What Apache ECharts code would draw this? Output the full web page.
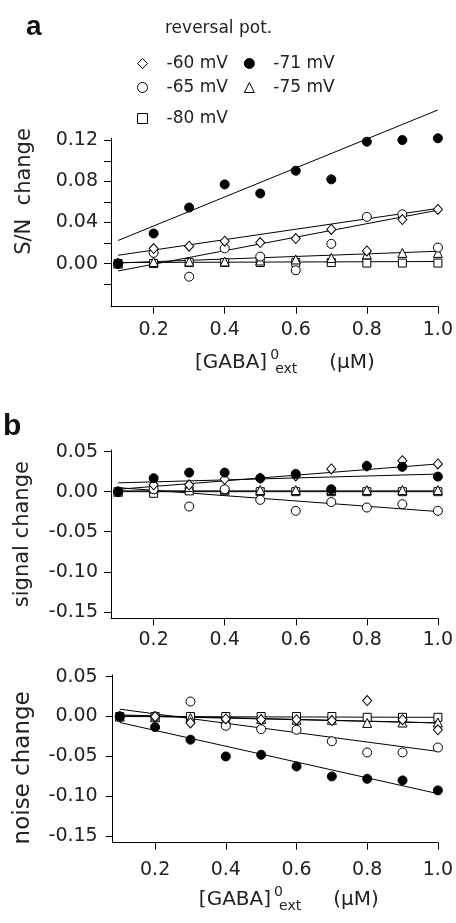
<!DOCTYPE html>
<html><head><meta charset="utf-8">
<script src="https://cdn.jsdelivr.net/npm/echarts@6/dist/echarts.min.js"></script>
<style>html,body{margin:0;padding:0;background:#fff}#c{width:456px;height:923px}</style>
</head><body><div id="c"></div>
<script>
// ---- data ----
const conc = [0.1, 0.2, 0.3, 0.4, 0.5, 0.6, 0.7, 0.8, 0.9, 1.0];
const names = ['-60 mV', '-65 mV', '-71 mV', '-75 mV', '-80 mV'];

// panel a: S/N change
const snM60 = [0, 0.0146, 0.0169, 0.0218, 0.0205, 0.0244, 0.0332, 0.0123, 0.0429, 0.0527];
const snM65 = [0, 0.0104, -0.0128, 0.0148, 0.0068, -0.0065, 0.0192, 0.0455, 0.048, 0.0156];
const snM71 = [0, 0.0293, 0.0546, 0.0771, 0.0683, 0.0904, 0.082, 0.1187, 0.1203, 0.122];
const snM75 = [0, 0.0016, 0.002, 0.002, 0.003, 0.004, 0.0055, 0.009, 0.0104, 0.0104];
const snM80 = [0, 0, 0.001, 0.001, 0.001, 0.001, 0.001, 0.0005, 0.0005, 0.0005];

// panel b: signal change
const sgM60 = [0, 0.0085, 0.0085, 0.0155, 0.0168, 0.0197, 0.0284, 0.032, 0.0387, 0.0346];
const sgM65 = [0, 0.003, -0.0185, 0.003, -0.0102, -0.0239, -0.013, -0.0198, -0.0156, -0.0239];
const sgM71 = [0, 0.0168, 0.0238, 0.0238, 0.0168, 0.0222, 0.003, 0.032, 0.031, 0.0188];
const sgM75 = [0, 0.004, 0.006, 0.003, 0.002, 0.002, 0.002, 0.002, 0.002, 0.002];
const sgM80 = [0, -0.002, 0.001, 0.001, 0, 0, 0, 0, 0, 0];

// panel c: noise change
const nzM60 = [0, 0, -0.008, -0.003, -0.004, -0.004, -0.005, 0.02, -0.004, -0.0166];
const nzM65 = [0, 0, 0.0188, -0.0116, -0.0158, -0.0166, -0.031, -0.045, -0.045, -0.0388];
const nzM71 = [0, -0.0133, -0.029, -0.05, -0.0479, -0.0625, -0.075, -0.078, -0.08, -0.0925];
const nzM75 = [0, -0.001, -0.002, -0.003, -0.003, -0.004, -0.004, -0.008, -0.0075, -0.0075];
const nzM80 = [0, 0, 0, 0, 0, 0, 0, -0.001, -0.001, -0.001];

// linear fits (value at first and last concentration)
const fitX = [0.1, 1.0];
const snFitM60 = [0.0081, 0.0537];
const snFitM65 = [-0.0072, 0.052];
const snFitM71 = [0.0225, 0.1496];
const snFitM75 = [0.0006, 0.012];
const snFitM80 = [0.001, 0.002];
const sgFitM60 = [0.003, 0.0346];
const sgFitM65 = [0.005, -0.0248];
const sgFitM71 = [0.011, 0.022];
const sgFitM75 = [0.001, 0.001];
const sgFitM80 = [0, 0];
const nzFitM60 = [0.002, -0.008];
const nzFitM65 = [0.0092, -0.0437];
const nzFitM71 = [-0.0075, -0.0966];
const nzFitM75 = [0.001, -0.008];
const nzFitM80 = [0, -0.001];

// ticks
const xTicks = [0.2, 0.4, 0.6, 0.8, 1.0];
const snTicks = [-0.02, 0, 0.02, 0.04, 0.06, 0.08, 0.10, 0.12];
const snLabels = [0, 0.04, 0.08, 0.12];
const chTicks = [-0.15, -0.10, -0.05, 0, 0.05];

// ---- chart ----
const FONT = 'DejaVu Sans';
const TXT = '#222';
const symbolOf = {
  '-60 mV': {symbol: 'diamond', size: [9, 10], fill: '#fff'},
  '-65 mV': {symbol: 'circle', size: 9, fill: '#fff'},
  '-71 mV': {symbol: 'circle', size: 9, fill: '#000'},
  '-75 mV': {symbol: 'triangle', size: 9, fill: '#fff'},
  '-80 mV': {symbol: 'rect', size: 8, fill: '#fff'}
};
const pair = arr => conc.map((x, i) => [x, arr[i]]);

const series = [];
function addPanel(gi, pts, fits) {
  fits.forEach((f, k) => {
    series.push({
      type: 'line', name: names[k] + ' fit', xAxisIndex: gi, yAxisIndex: gi,
      data: fitX.map((x, i) => [x, f[i]]), symbol: 'none', silent: true, clip: false,
      lineStyle: {color: '#000', width: 1}, z: 2
    });
  });
  const order = [4, 3, 1, 0, 2];
  order.forEach(k => {
    const s = symbolOf[names[k]];
    series.push({
      type: 'scatter', name: names[k], xAxisIndex: gi, yAxisIndex: gi,
      data: pair(pts[k]), symbol: s.symbol, symbolSize: s.size, clip: false,
      itemStyle: {color: s.fill, borderColor: '#000', borderWidth: 1, opacity: 1}, z: 3
    });
  });
}
addPanel(0, [snM60, snM65, snM71, snM75, snM80], [snFitM60, snFitM65, snFitM71, snFitM75, snFitM80]);
addPanel(1, [sgM60, sgM65, sgM71, sgM75, sgM80], [sgFitM60, sgFitM65, sgFitM71, sgFitM75, sgFitM80]);
addPanel(2, [nzM60, nzM65, nzM71, nzM75, nzM80], [nzFitM60, nzFitM65, nzFitM71, nzFitM75, nzFitM80]);

const axisLine = {show: true, onZero: false, lineStyle: {color: '#000', width: 1}};
const gabaName = '{m|[GABA]}{sup|0}{sub|ext}{u|(\u03bcM)}';
const gabaRich = {
  m: {fontFamily: FONT, fontSize: 20, color: TXT, lineHeight: 28, verticalAlign: 'middle'},
  sup: {fontFamily: FONT, fontSize: 14, color: TXT, lineHeight: 14, verticalAlign: 'top', width: 1, padding: [0, 0, 0, 7]},
  sub: {fontFamily: FONT, fontSize: 14, color: TXT, lineHeight: 14, verticalAlign: 'bottom'},
  u: {fontFamily: FONT, fontSize: 20, color: TXT, lineHeight: 28, verticalAlign: 'middle', padding: [0, 0, 0, 32]}
};
function xAx(gi, margin, withName, namePad, nameGap) {
  const o = {
    type: 'value', gridIndex: gi, min: 0.08, max: 1.0,
    axisLine: axisLine,
    axisTick: {show: true, length: 7, customValues: xTicks, lineStyle: {color: '#000'}},
    axisLabel: {customValues: xTicks, margin: margin, formatter: v => v.toFixed(1),
      fontFamily: FONT, fontSize: 19, color: TXT},
    splitLine: {show: false}
  };
  if (withName) {
    o.name = gabaName; o.nameLocation = 'middle'; o.nameGap = nameGap;
    o.nameTextStyle = {rich: gabaRich, padding: [0, 0, 0, namePad]};
  }
  return o;
}
function yAx(gi, min, max, ticks, labels, name, nameSize, nameGap, namePad, margin) {
  return {
    type: 'value', gridIndex: gi, min: min, max: max,
    axisLine: axisLine,
    axisTick: {show: true, length: 7, customValues: ticks, lineStyle: {color: '#000'}},
    axisLabel: {customValues: labels, margin: margin, formatter: v => (Math.abs(v) < 1e-9 ? 0 : v).toFixed(2),
      fontFamily: FONT, fontSize: 19, color: TXT},
    splitLine: {show: false},
    name: name, nameLocation: 'middle', nameRotate: 90, nameGap: nameGap,
    nameTextStyle: {fontFamily: FONT, fontSize: nameSize, color: TXT, padding: namePad}
  };
}

const legendBase = {
  itemWidth: 10, itemHeight: 10, padding: 0, itemGap: 16, selectedMode: false,
  itemStyle: {borderWidth: 1, borderColor: '#000'},
  textStyle: {fontFamily: FONT, fontSize: 17, color: TXT, padding: [0, 0, 0, 14]}
};

const option = {
  animation: false,
  backgroundColor: '#fff',
  title: [
    {text: 'a', left: 26, top: 13, padding: 0, textStyle: {fontFamily: 'Liberation Sans', fontWeight: 'bold', fontSize: 28, color: '#111'}},
    {text: 'b', left: 3, top: 412, padding: 0, textStyle: {fontFamily: 'Liberation Sans', fontWeight: 'bold', fontSize: 30, color: '#111'}},
    {text: 'reversal pot.', left: 165, top: 20, padding: 0, textStyle: {fontFamily: FONT, fontSize: 17, fontWeight: 'normal', color: TXT}}
  ],
  legend: [
    Object.assign({}, legendBase, {left: 137, top: 55, data: ['-60 mV', '-71 mV']}),
    Object.assign({}, legendBase, {left: 137, top: 79, data: ['-65 mV', '-75 mV']}),
    Object.assign({}, legendBase, {left: 137, top: 110, data: ['-80 mV']})
  ],
  grid: [
    {left: 111, right: 17.7, top: 138.3, bottom: 923 - 306.7},
    {left: 111, right: 17.7, top: 450, bottom: 923 - 618.3},
    {left: 112.7, right: 16, top: 675, bottom: 923 - 842.7}
  ],
  xAxis: [xAx(0, 14, true, 21, 42), xAx(1, 12, false), xAx(2, 18, true, 27, 43)],
  yAxis: [
    yAx(0, -0.042, 0.122, snTicks, snLabels, 'S/N  change', 21, 76, [0, 0, 0, 62], 13),
    yAx(1, -0.158, 0.052, chTicks, chTicks, 'signal change', 21, 78, 0, 13),
    yAx(2, -0.158, 0.052, chTicks, chTicks, 'noise change', 23, 78, [0, 18, 0, 0], 15)
  ],
  series: series
};
const chart = echarts.init(document.getElementById('c'), null, {renderer: 'canvas'});
chart.setOption(option);
</script></body></html>
